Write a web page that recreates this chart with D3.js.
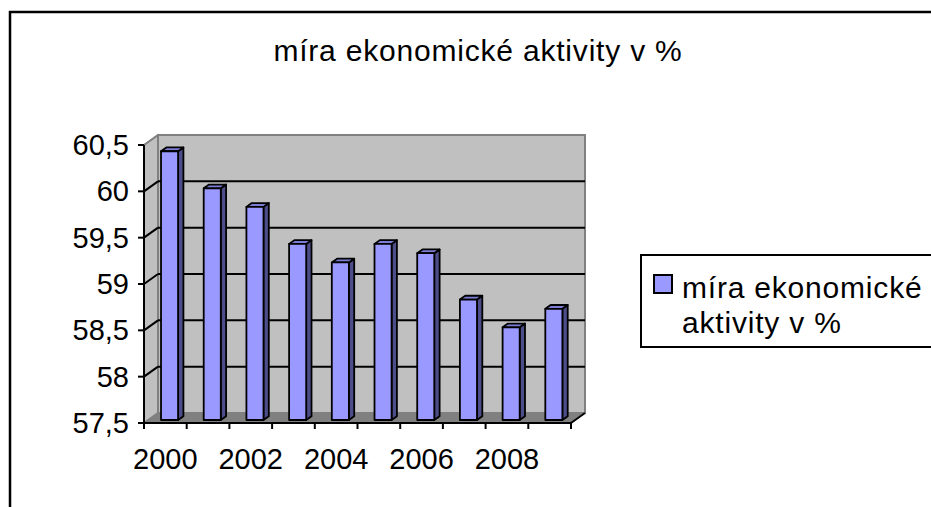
<!DOCTYPE html>
<meta charset="utf-8">
<style>
body { margin: 0; background: #fff; }
text { font-family: "Liberation Sans", Arial, sans-serif; fill: #000; }
</style>
<body>
<svg id="chart" width="931" height="507"></svg>
<script src="https://cdn.jsdelivr.net/npm/d3@7"></script>
<script>

var years = ["2000", "2001", "2002", "2003", "2004", "2005", "2006", "2007", "2008", "2009"];
var values = [60.4, 60.0, 59.8, 59.4, 59.2, 59.4, 59.3, 58.8, 58.5, 58.7];
var yTicks = [57.5, 58, 58.5, 59, 59.5, 60, 60.5];
var xLabels = ["2000", "2002", "2004", "2006", "2008"];
var title = "míra ekonomické aktivity v %";
var legendLines = ["míra ekonomické", "aktivity v %"];

var svg = d3.select("#chart");

// outer chart frame (runs off the page right/bottom)
svg.append("rect")
  .attr("x", 10).attr("y", 12)
  .attr("width", 960).attr("height", 540)
  .attr("fill", "#fff").attr("stroke", "#000").attr("stroke-width", 2.5);

var x = d3.scaleBand()
  .domain(years)
  .range([144, 571])
  .paddingInner(0.6)
  .paddingOuter(0.3);

var y = d3.scaleLinear()
  .domain([57.5, 60.5])
  .range([423, 145]);

// 3d depth of the walls
var dx = 14, dy = -10;
var f0 = 0.3, fd = 0.38; // bar front position and depth, as share of wall depth

var x0 = x.range()[0], x1 = x.range()[1];
var yb = y(yTicks[0]), yt = y(yTicks[yTicks.length - 1]);

function poly(p) { return p.map(function(d) { return d.join(","); }).join(" "); }

// side wall
svg.append("polygon")
  .attr("points", poly([[x0, yt], [x0 + dx, yt + dy], [x0 + dx, yb + dy], [x0, yb]]))
  .attr("fill", "#c0c0c0").attr("stroke", "#808080").attr("stroke-width", 1.5);

// back wall
svg.append("rect")
  .attr("x", x0 + dx).attr("y", yt + dy)
  .attr("width", x1 - x0).attr("height", yb - yt)
  .attr("fill", "#c0c0c0").attr("stroke", "#808080").attr("stroke-width", 2);

// floor
svg.append("polygon")
  .attr("points", poly([[x0, yb], [x1, yb], [x1 + dx, yb + dy], [x0 + dx, yb + dy]]))
  .attr("fill", "#808080").attr("stroke", "#808080").attr("stroke-width", 1);

// gridlines on back + side wall
var inner = yTicks.slice(1, -1);
svg.append("g").selectAll("line.back")
  .data(inner).enter().append("line")
  .attr("x1", x0 + dx).attr("x2", x1 + dx)
  .attr("y1", function(d) { return y(d) + dy; })
  .attr("y2", function(d) { return y(d) + dy; })
  .attr("stroke", "#000").attr("stroke-width", 2);

svg.append("g").selectAll("line.side")
  .data(yTicks.slice(0, -1).concat([yTicks[yTicks.length - 1]])).enter().append("line")
  .attr("x1", x0).attr("x2", x0 + dx)
  .attr("y1", function(d) { return y(d); })
  .attr("y2", function(d) { return y(d) + dy; })
  .attr("stroke", function(d, i) { return i == 0 || i == yTicks.length - 1 ? "#808080" : "#000"; })
  .attr("stroke-width", 2);

// bars
var bw = x.bandwidth();
var bars = svg.append("g").selectAll("g")
  .data(years.map(function(d, i) { return { year: d, value: values[i] }; }))
  .enter().append("g")
  .attr("stroke", "#000").attr("stroke-width", 1.8).attr("stroke-linejoin", "round");

function fx(d) { return x(d.year) + dx * f0; }
function fy(d) { return y(d.value) + dy * f0; }
var bx = dx * fd, by = dy * fd;

bars.append("polygon")
  .attr("fill", "#4d4d8a")
  .attr("points", function(d) {
    var a = fx(d) + bw, t = fy(d), b = yb + dy * f0;
    return poly([[a, t], [a + bx, t + by], [a + bx, b + by], [a, b]]);
  });

bars.append("polygon")
  .attr("fill", "#7c7cd6")
  .attr("points", function(d) {
    var a = fx(d), t = fy(d);
    return poly([[a, t], [a + bx, t + by], [a + bw + bx, t + by], [a + bw, t]]);
  });

bars.append("rect")
  .attr("fill", "#9999ff")
  .attr("x", fx).attr("y", fy)
  .attr("width", bw)
  .attr("height", function(d) { return yb + dy * f0 - fy(d); });

// axis lines + ticks
var ax = svg.append("g").attr("stroke", "#000").attr("stroke-width", 2);
ax.append("line").attr("x1", x0).attr("x2", x0).attr("y1", yt).attr("y2", yb);
ax.append("line").attr("x1", x0).attr("x2", x1).attr("y1", yb).attr("y2", yb);
ax.append("line").attr("x1", x1).attr("x2", x1 + dx).attr("y1", yb).attr("y2", yb + dy);
ax.selectAll("line.yt").data(yTicks).enter().append("line")
  .attr("x1", x0 - 6).attr("x2", x0)
  .attr("y1", function(d) { return y(d); }).attr("y2", function(d) { return y(d); });
var step = x.step();
ax.selectAll("line.xt").data(d3.range(years.length + 1)).enter().append("line")
  .attr("x1", function(i) { return x0 + i * step; })
  .attr("x2", function(i) { return x0 + i * step; })
  .attr("y1", yb).attr("y2", yb + 6);

// labels
var fmt = function(d) { return String(d).replace(".", ","); };
svg.append("g").selectAll("text")
  .data(yTicks).enter().append("text")
  .attr("x", x0 - 15)
  .attr("y", function(d) { return y(d); })
  .attr("dy", "0.35em")
  .attr("text-anchor", "end")
  .style("font-size", "29px")
  .text(fmt);

svg.append("g").selectAll("text")
  .data(xLabels).enter().append("text")
  .attr("x", function(d) { return x(d) + bw / 2; })
  .attr("y", 469)
  .attr("text-anchor", "middle")
  .style("font-size", "29px")
  .text(function(d) { return d; });

svg.append("text")
  .attr("x", 478).attr("y", 61)
  .attr("text-anchor", "middle")
  .style("font-size", "30px")
  .style("letter-spacing", "0.8px")
  .text(title);

// legend
var lg = svg.append("g");
lg.append("rect")
  .attr("x", 641).attr("y", 255).attr("width", 320).attr("height", 92)
  .attr("fill", "#fff").attr("stroke", "#000").attr("stroke-width", 2);
lg.append("rect")
  .attr("x", 654).attr("y", 275).attr("width", 18).attr("height", 18)
  .attr("fill", "#9999ff").attr("stroke", "#000").attr("stroke-width", 2);
lg.selectAll("text.l").data(legendLines).enter().append("text")
  .attr("x", 682)
  .attr("y", function(d, i) { return 298 + i * 35; })
  .style("font-size", "30px")
  .style("letter-spacing", "0.8px")
  .text(function(d) { return d; });

</script>
